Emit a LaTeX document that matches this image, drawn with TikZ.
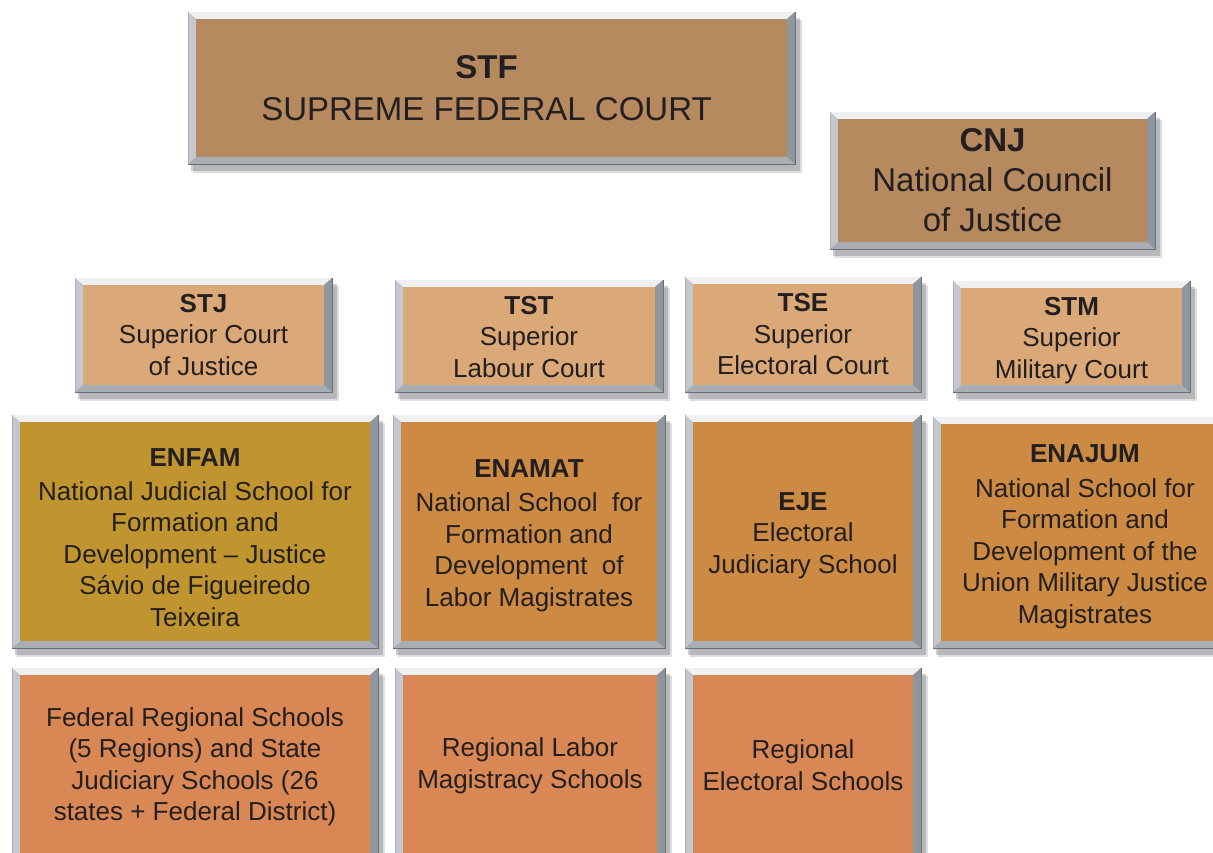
\documentclass[tikz,border=0pt]{standalone}
\usepackage{fontspec}
\setmainfont{Liberation Sans}
\definecolor{txt}{HTML}{231F20}
\definecolor{cTop}{HTML}{B6895F}
\definecolor{cCourt}{HTML}{DBA877}
\definecolor{cEnfam}{HTML}{C0952F}
\definecolor{cSchool}{HTML}{CC8A43}
\definecolor{cReg}{HTML}{D98855}
\definecolor{fhi}{HTML}{EEF0F2}
\definecolor{fleft}{HTML}{C3C8CE}
\definecolor{fright}{HTML}{90969D}
\definecolor{fbot}{HTML}{A9AEB5}
\definecolor{fline}{HTML}{6A6F76}
\definecolor{shad}{HTML}{5A5E64}
\tikzset{
  boxtext/.style={inner sep=0pt, align=center, text=txt},
  bigfont/.style={font=\fontsize{33}{40}\selectfont},
  smallfont/.style={font=\fontsize{26}{31.5}\selectfont},
}
% #1 name, #2 x1, #3 y1, #4 x2, #5 y2, #6 fill, #7 text style, #8 text
\newcommand\bevelbox[8]{%
  \fill[shad, opacity=.30] ({#2+3},{#3+6}) rectangle ({#4+5},{#5+7});
  \fill[shad, opacity=.20] ({#2+5},{#3+8}) rectangle ({#4+7},{#5+9});
  \fill[fbot] (#2,#3) rectangle (#4,#5);
  \fill[fleft] (#2,#3) -- ({#2+8},{#3+8}) -- ({#2+8},{#5-7}) -- (#2,#5) -- cycle;
  \fill[fhi] (#2,#3) -- (#4,#3) -- ({#4-8},{#3+7}) -- ({#2+8},{#3+7}) -- cycle;
  \fill[fright] (#4,#3) -- (#4,#5) -- ({#4-8},{#5-7}) -- ({#4-8},{#3+7}) -- cycle;
  \draw[fline, line width=1pt] (#4,#3) -- (#4,#5) -- (#2,#5);
  \draw[fline!55, line width=0.8pt] (#2,#3) -- (#2,#5);
  \fill[#6] ({#2+8},{#3+7}) rectangle ({#4-8},{#5-7});
  \node[boxtext, #7] (#1) at ({(#2+#4)/2},{(#3+#5)/2}) {#8};
}
\begin{document}
\begin{tikzpicture}[x=1pt, y=-1pt]
\useasboundingbox (0,0) rectangle (1213,852);
\clip (0,0) rectangle (1213,852);
\fill[white] (0,0) rectangle (1213,852);
% top
\bevelbox{stf}{188}{12}{795}{164}{cTop}{bigfont, xshift=-5}{\textbf{STF}\\[2pt]SUPREME FEDERAL COURT}
\bevelbox{cnj}{830}{112}{1155}{249}{cTop}{bigfont}{\textbf{CNJ}\\National Council\\of Justice}
% courts
\bevelbox{stj}{75}{278}{332}{392}{cCourt}{smallfont}{\textbf{STJ}\\Superior Court\\of Justice}
\bevelbox{tst}{395}{280}{663}{392}{cCourt}{smallfont, yshift=-1}{\textbf{TST}\\Superior\\Labour Court}
\bevelbox{tse}{685}{277}{921}{392}{cCourt}{smallfont}{\textbf{TSE}\\Superior\\Electoral Court}
\bevelbox{stm}{953}{281}{1190}{392}{cCourt}{smallfont, yshift=-4}{\textbf{STM}\\Superior\\Military Court}
% national schools
\bevelbox{enfam}{12}{415}{378}{648}{cEnfam}{smallfont, yshift=-6}{\textbf{ENFAM}\\[2pt]National Judicial School for\\Formation and\\Development -- Justice\\Sávio de Figueiredo\\Teixeira}
\bevelbox{enamat}{393}{415}{665}{648}{cSchool}{smallfont, yshift=-4}{\textbf{ENAMAT}\\[3pt]National School\ \ for\\Formation and\\Development\ \ of\\Labor Magistrates}
\bevelbox{eje}{685}{415}{921}{648}{cSchool}{smallfont, yshift=-4}{\textbf{EJE}\\Electoral\\Judiciary School}
\bevelbox{enajum}{933}{417}{1237}{648}{cSchool}{smallfont, yshift=-4}{\textbf{ENAJUM}\\[3pt]National School for\\Formation and\\Development of the\\Union Military Justice\\Magistrates}
% regional schools
\bevelbox{frs}{12}{668}{378}{868}{cReg}{smallfont, yshift=1}{Federal Regional Schools\\(5 Regions) and State\\Judiciary Schools (26\\states + Federal District)}
\bevelbox{rlms}{395}{668}{665}{868}{cReg}{smallfont, yshift=2}{Regional Labor\\Magistracy Schools}
\bevelbox{res}{685}{668}{921}{868}{cReg}{smallfont, yshift=3}{Regional\\Electoral Schools}
\end{tikzpicture}
\end{document}
